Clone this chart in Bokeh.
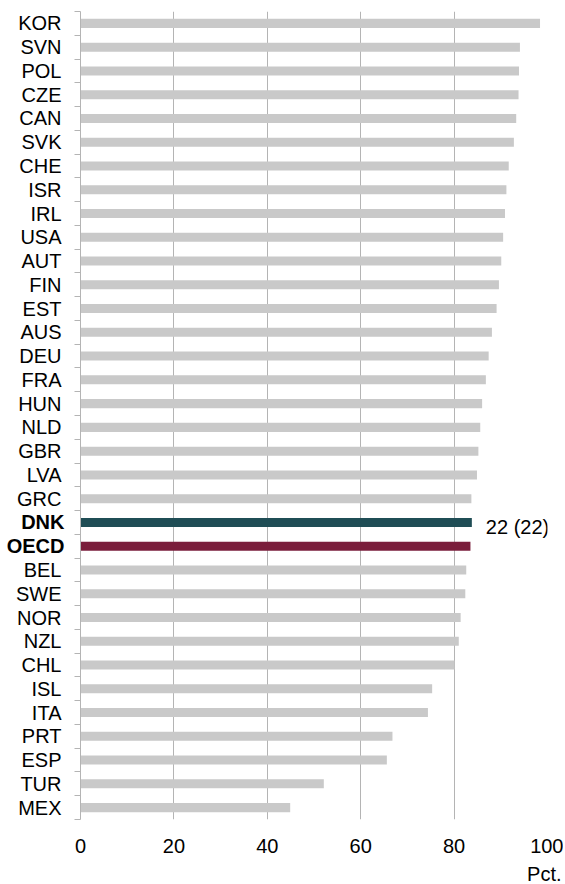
from bokeh.plotting import figure
from bokeh.models import ColumnDataSource, Range1d, FixedTicker, LabelSet, Title, LinearAxis
from bokeh.core.properties import value
from bokeh.embed import file_html
from bokeh.resources import INLINE

countries = ["KOR", "SVN", "POL", "CZE", "CAN", "SVK", "CHE", "ISR", "IRL", "USA",
             "AUT", "FIN", "EST", "AUS", "DEU", "FRA", "HUN", "NLD", "GBR", "LVA",
             "GRC", "DNK", "OECD", "BEL", "SWE", "NOR", "NZL", "CHL", "ISL", "ITA",
             "PRT", "ESP", "TUR", "MEX"]
values = [98.4, 94.1, 93.9, 93.8, 93.3, 92.8, 91.7, 91.2, 90.9, 90.5,
          90.1, 89.6, 89.1, 88.1, 87.4, 86.8, 86.0, 85.6, 85.2, 84.9,
          83.7, 83.8, 83.5, 82.6, 82.4, 81.4, 81.0, 80.1, 75.3, 74.4,
          66.8, 65.6, 52.1, 44.9]
x_ticks = [0, 20, 40, 60, 80, 100]
highlight_colors = {"DNK": "#1F4D55", "OECD": "#7A1E3C"}
dnk_rank_label = "22 (22)"
unit_label = "Pct."

FONT = "Liberation Sans"
GRAY_BAR = "#C9C9C9"
GRID = "#B4B4B4"

n = len(countries)
ypos = [i + 0.5 for i in range(n)]
colors = [highlight_colors.get(c, GRAY_BAR) for c in countries]

src = ColumnDataSource(dict(y=ypos, value=values, name=countries, color=colors))

p = figure(frame_width=467, frame_height=808,
           x_range=Range1d(0, 100), y_range=Range1d(n, 0),
           output_backend="svg", toolbar_location=None,
           min_border_left=80, min_border_right=16, min_border_top=11,
           min_border_bottom=0)
p.outline_line_color = None
p.background_fill_color = "white"
p.border_fill_color = "white"

p.hbar(y="y", right="value", left=0, height=0.38, fill_color="color",
       line_color=None, source=src)

# grids
p.ygrid.visible = False
p.xgrid.ticker = FixedTicker(ticks=x_ticks[1:])
p.xgrid.grid_line_color = GRID
p.xgrid.grid_line_width = 1

# x axis
xa = p.xaxis[0]
xa.ticker = FixedTicker(ticks=x_ticks)
xa.axis_line_color = None
xa.major_tick_line_color = None
xa.minor_tick_line_color = None
xa.major_tick_out = 0
xa.major_tick_in = 0
xa.major_label_standoff = 19
xa.major_label_text_font = FONT
xa.major_label_text_font_size = "20px"
xa.major_label_text_color = "black"

# y axis (inner): axis line, boundary ticks, regular country labels
ya = p.yaxis[0]
ya.ticker = FixedTicker(ticks=ypos, minor_ticks=list(range(n + 1)))
ya.axis_line_color = GRID
ya.major_tick_line_color = None
ya.major_tick_out = 0
ya.major_tick_in = 0
ya.minor_tick_line_color = GRID
ya.minor_tick_out = 6
ya.minor_tick_in = 0
ya.major_label_standoff = 13
ya.major_label_text_font = FONT
ya.major_label_text_font_size = "20px"
ya.major_label_text_color = "black"
ya.major_label_overrides = {y: ("" if c in highlight_colors else c)
                            for y, c in zip(ypos, countries)}

# y axis (outer): bold labels for highlighted rows, pulled in over the inner band
yb = LinearAxis(ticker=FixedTicker(ticks=ypos))
yb.axis_line_color = None
yb.major_tick_line_color = None
yb.minor_tick_line_color = None
yb.major_tick_out = 0
yb.major_tick_in = 0
yb.minor_tick_out = 0
yb.minor_tick_in = 0
yb.major_label_standoff = -52
yb.major_label_text_font = FONT
yb.major_label_text_font_size = "20px"
yb.major_label_text_font_style = "bold"
yb.major_label_text_color = "black"
yb.major_label_overrides = {y: (c if c in highlight_colors else "")
                            for y, c in zip(ypos, countries)}
p.add_layout(yb, "left")

# rank label next to DNK bar
di = countries.index("DNK")
rank_src = ColumnDataSource(dict(y=[ypos[di]], value=[values[di]],
                                 label=[dnk_rank_label]))
p.add_layout(LabelSet(x="value", y="y", text="label", source=rank_src,
                      x_offset=14, y_offset=-5, text_align="left",
                      text_baseline="middle", text_font=value(FONT),
                      text_font_size=value("20px"), text_color="black"))

p.add_layout(Title(text=unit_label, align="right", offset=-14,
                   text_font=FONT, text_font_size="20px",
                   text_font_style="normal", text_color="black"), "below")

open("out.html", "w").write(file_html(p, INLINE))
